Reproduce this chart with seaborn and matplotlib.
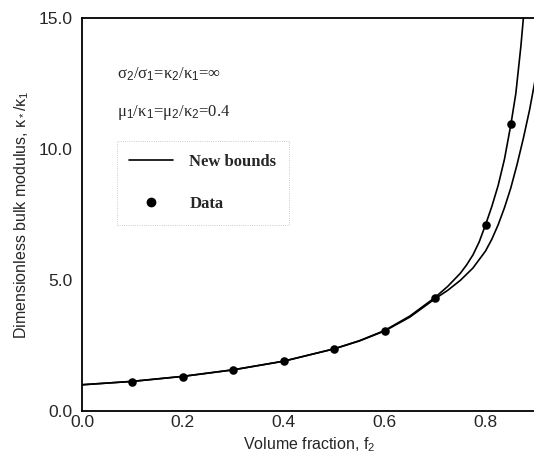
import matplotlib
matplotlib.use("Agg")
import matplotlib.pyplot as plt
from matplotlib.lines import Line2D
import seaborn as sns
import pandas as pd

# Volume fraction grid of the bound curves
f_upper = [0.0, 0.1, 0.2, 0.3, 0.4, 0.5, 0.55, 0.6, 0.65, 0.7, 0.725, 0.75,
           0.7625, 0.775, 0.7875, 0.8, 0.8125, 0.825, 0.8375, 0.85, 0.86, 0.87,
           0.876]
k_upper = [1.0, 1.13, 1.32, 1.57, 1.90, 2.37, 2.68, 3.07, 3.62, 4.33, 4.75, 5.25,
           5.57, 5.95, 6.45, 7.10, 7.80, 8.60, 9.60, 10.9, 12.1, 13.9,
           15.2]

f_lower = [0.0, 0.1, 0.2, 0.3, 0.4, 0.5, 0.55, 0.6, 0.65, 0.7, 0.725, 0.75,
           0.775, 0.8, 0.8125, 0.825, 0.8375, 0.85, 0.8625, 0.875, 0.8875, 0.9]
k_lower = [1.0, 1.13, 1.32, 1.57, 1.90, 2.37, 2.67, 3.05, 3.58, 4.28, 4.60, 4.98,
           5.45, 6.10, 6.55, 7.10, 7.75, 8.50, 9.40, 10.4, 11.5, 12.8]

# Measured points
f_data = [0.1, 0.2, 0.3, 0.4, 0.5, 0.6, 0.7, 0.8, 0.85]
k_data = [1.12, 1.30, 1.56, 1.89, 2.36, 3.06, 4.31, 7.10, 10.94]

x_ticks = [0.0, 0.2, 0.4, 0.6, 0.8]
y_ticks = [0.0, 5.0, 10.0, 15.0]

sns.set_style("white")
plt.rcParams["font.family"] = ["Liberation Sans", "DejaVu Sans"]
plt.rcParams["mathtext.fontset"] = "custom"
plt.rcParams["mathtext.rm"] = "Liberation Sans"
plt.rcParams["mathtext.it"] = "Liberation Sans"

fig = plt.figure(figsize=(5.34, 4.58), dpi=100)
ax = fig.add_axes([82 / 534, 47 / 458, 454 / 534, 393.5 / 458])

upper = pd.DataFrame({"f": f_upper, "k": k_upper})
lower = pd.DataFrame({"f": f_lower, "k": k_lower})
data = pd.DataFrame({"f": f_data, "k": k_data})

sns.lineplot(data=upper, x="f", y="k", ax=ax, color="black", lw=1.2,
             sort=False, legend=False)
sns.lineplot(data=lower, x="f", y="k", ax=ax, color="black", lw=1.2,
             sort=False, legend=False)
sns.scatterplot(data=data, x="f", y="k", ax=ax, color="black", s=38,
                edgecolor="black", linewidth=0, zorder=5, legend=False)

ax.set_xlim(0.0, 0.9)
ax.set_ylim(0.0, 15.0)
ax.set_xticks(x_ticks)
ax.set_xticklabels([f"{v:.1f}" for v in x_ticks])
ax.set_yticks(y_ticks)
ax.set_yticklabels([f"{v:.1f}" for v in y_ticks])
ax.set_xticks([0.1, 0.3, 0.5, 0.7], minor=True)
ax.set_yticks([2.5, 7.5, 12.5], minor=True)
ax.tick_params(axis="both", which="both", direction="in", length=2.5,
               width=0.5, color="#999999", labelsize=12.5)
ax.tick_params(axis="y", pad=7)
ax.tick_params(axis="x", pad=3)

for side in ["left", "top", "bottom"]:
    ax.spines[side].set_color("black")
    ax.spines[side].set_linewidth(1.3)
ax.spines["right"].set_visible(False)

ax.set_xlabel("Volume fraction, f$_2$", fontsize=11.5, labelpad=4)
ax.set_ylabel("Dimensionless bulk modulus, \u03ba$_*$/\u03ba$_1$", fontsize=11.5,
              labelpad=5)

serif = ["Liberation Serif", "DejaVu Serif"]
ax.text(0.077, 0.855, "\u03c3$_2$/\u03c3$_1$=\u03ba$_2$/\u03ba$_1$=\u221e",
        transform=ax.transAxes, fontsize=12, family=serif, va="center")
ax.text(0.077, 0.758, "\u03bc$_1$/\u03ba$_1$=\u03bc$_2$/\u03ba$_2$=0.4",
        transform=ax.transAxes, fontsize=12, family=serif, va="center")

handles = [Line2D([], [], color="black", lw=1.2),
           Line2D([], [], color="black", marker="o", ls="none", markersize=6)]
leg = ax.legend(handles, ["New bounds", "Data"], loc="upper left",
                bbox_to_anchor=(0.077, 0.686), frameon=True, fancybox=False,
                prop={"family": serif, "weight": "bold", "size": 12},
                handlelength=2.6, handletextpad=1.0, labelspacing=1.6,
                borderpad=0.75, borderaxespad=0.0)
frame = leg.get_frame()
frame.set_edgecolor("#aaaaaa")
frame.set_linewidth(0.6)
frame.set_linestyle(":")

fig.savefig("out.png", dpi=100)
